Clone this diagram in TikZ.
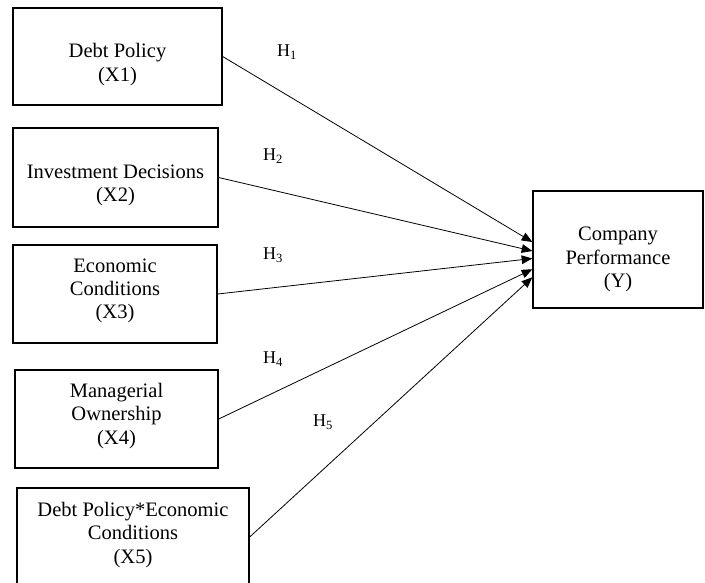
\documentclass[tikz,border=0pt]{standalone}
\usepackage{fontspec}
\setmainfont{Liberation Serif}
\usetikzlibrary{arrows.meta}

\begin{document}
\begin{tikzpicture}[x=0.75pt,y=-0.75pt,
    varbox/.style={draw,line width=1pt,inner sep=0pt},
    vartext/.style={align=center,inner sep=0pt,
        font=\fontsize{15.4}{17.5}\selectfont},
    hyp/.style={inner sep=0pt,font=\fontsize{13.5}{16}\selectfont},
    link/.style={line width=0.6pt,-{Triangle[length=8pt,width=6.5pt]}}]
\useasboundingbox (0,0) rectangle (705,582);
% boxes
\node[varbox,minimum width=156.75pt,minimum height=72.75pt] (x1) at (117.5,56.5) {};
\node[varbox,minimum width=153.75pt,minimum height=74.25pt] (x2) at (115.5,177.5) {};
\node[varbox,minimum width=153pt,minimum height=73.5pt] (x3) at (115,294) {};
\node[varbox,minimum width=152.25pt,minimum height=73.5pt] (x4) at (116.5,419) {};
\node[varbox,minimum width=174pt,minimum height=73.5pt] (x5) at (133,537) {};
\node[varbox,minimum width=127.5pt,minimum height=87.75pt] (perf) at (618,249.5) {};
% texts
\node[vartext] (x1t) at ([yshift=-6pt]x1.center) {Debt Policy\\(X1)};
\node[vartext] (x2t) at ([yshift=-6pt]x2.center) {Investment Decisions\\(X2)};
\node[vartext] (x3t) at ([yshift=2.25pt]x3.center) {Economic\\Conditions\\(X3)};
\node[vartext] (x4t) at ([yshift=2.25pt]x4.center) {Managerial\\Ownership\\(X4)};
\node[vartext] (x5t) at ([yshift=1.5pt]x5.center) {Debt Policy*Economic\\Conditions\\(X5)};
\node[vartext] (perft) at ([yshift=-7.5pt]perf.center) {Company\\Performance\\(Y)};
% hypotheses
\foreach \i/\a in {1/175,2/181,3/186,4/193,5/198}
    \draw[link] (x\i.east) -- (perf.\a);
\foreach \i/\x/\y in {1/287/52,2/273/156,3/273/255,4/273/359,5/323/422}
    \node[hyp] (h\i) at (\x,\y) {H\textsubscript{\i}};
\end{tikzpicture}
\end{document}
